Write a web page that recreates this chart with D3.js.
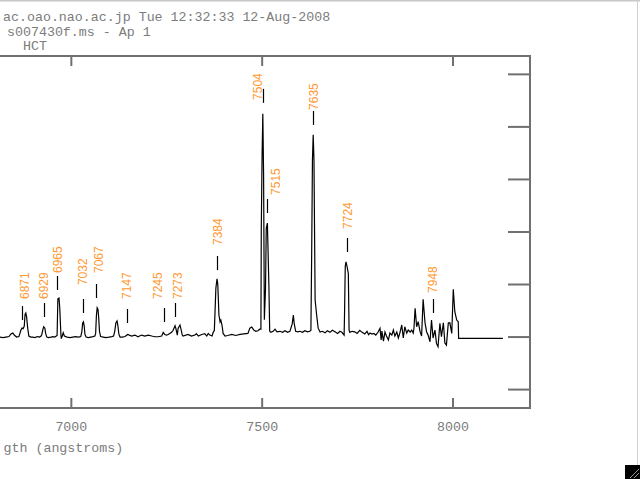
<!DOCTYPE html>
<html>
<head>
<meta charset="utf-8">
<script src="https://cdn.jsdelivr.net/npm/d3@7"></script>
<style>
  body { margin: 0; background: #fff; overflow: hidden; }
  .mono { font-family: "Liberation Mono", "DejaVu Sans Mono", monospace; font-size: 13.3px; fill: #7c7c7c; }
  .lbl { font-family: "Liberation Sans", Arial, sans-serif; font-size: 12px; fill: #ff9933; }
</style>
</head>
<body>
<div id="chart"></div>
<script>
// spectrum (wavelength in angstroms, flux in arbitrary units)
var waves = [6800, 6814, 6822, 6830, 6838, 6843, 6848, 6853, 6858, 6864,
  6869, 6872, 6875, 6878, 6880, 6882, 6884, 6887, 6890, 6895,
  6900, 6906, 6912, 6918, 6922, 6924, 6927, 6929, 6932, 6934,
  6937, 6942, 6948, 6953, 6958, 6962, 6964, 6966, 6969, 6971,
  6974, 6975, 6977, 6980, 6983, 6990, 6998, 7005, 7012, 7020,
  7026, 7029, 7031, 7033, 7035, 7037, 7040, 7046, 7052, 7058,
  7063, 7065, 7067, 7069, 7071, 7073, 7075, 7078, 7085, 7092,
  7100, 7107, 7112, 7115, 7118, 7121, 7123, 7126, 7129, 7135,
  7142, 7149, 7159, 7168, 7176, 7185, 7194, 7203, 7212, 7220,
  7229, 7238, 7242, 7246, 7251, 7255, 7264, 7268, 7273, 7275,
  7279, 7281, 7286, 7288, 7292, 7294, 7307, 7316, 7325, 7329,
  7334, 7343, 7351, 7356, 7360, 7364, 7370, 7373, 7376, 7380,
  7383, 7385, 7388, 7391, 7393, 7396, 7399, 7404, 7411, 7422,
  7432, 7443, 7453, 7464, 7469, 7474, 7480, 7485, 7490, 7495,
  7498, 7499, 7501, 7503, 7505, 7507, 7510, 7512, 7515, 7516,
  7519, 7521, 7524, 7530, 7535, 7540, 7548, 7555, 7561, 7568,
  7574, 7580, 7583, 7585, 7589, 7595, 7600, 7607, 7613, 7620,
  7626, 7629, 7631, 7633, 7635, 7637, 7640, 7644, 7648, 7653,
  7659, 7666, 7672, 7679, 7685, 7692, 7699, 7705, 7710, 7716,
  7717, 7719, 7721, 7724, 7727, 7729, 7731, 7737, 7744, 7750,
  7757, 7763, 7770, 7776, 7780, 7784, 7789, 7794, 7799, 7805,
  7810, 7813, 7815, 7819, 7823, 7827, 7832, 7836, 7841, 7845,
  7849, 7854, 7858, 7862, 7867, 7871, 7875, 7880, 7884, 7889,
  7893, 7897, 7899, 7902, 7906, 7910, 7915, 7919, 7923, 7928,
  7932, 7936, 7941, 7945, 7949, 7954, 7958, 7962, 7967, 7971,
  7976, 7980, 7984, 7989, 7993, 7998, 8002, 8006, 8011, 8015,
  8016, 8132];

var flux = [49, 49.5, 49, 49.5, 50, 52.5, 53.3, 51, 49.5, 50,
  56, 58, 57.5, 60, 71, 72.4, 69, 58, 50.5, 49.5,
  49.5, 49, 50, 49.5, 50.5, 52, 57, 59.3, 58, 53,
  49.5, 49, 49.5, 50, 49.5, 50.5, 51, 86, 86.7, 77,
  51.4, 48, 50, 53.6, 50.5, 49.5, 49, 49.5, 50, 49.5,
  50, 55, 63, 64, 60, 52, 49.5, 49, 49.5, 50,
  50.5, 53, 70, 77.4, 76, 68, 55, 50, 49.5, 49,
  49.5, 50, 50.5, 55, 63, 64.8, 61, 52, 49.5, 49.5,
  50, 52, 50.5, 51.4, 49.8, 51.4, 50.5, 51.4, 50.5, 49.8,
  49.8, 50.5, 54, 52, 51.4, 52, 54, 56, 60.3, 58,
  51.4, 57.8, 61, 58, 51.4, 50.5, 52, 50.5, 51.4, 52.7,
  50.5, 52, 52.7, 50.5, 53, 51.4, 50.5, 54, 56, 96,
  105, 99.7, 70.5, 64, 65.7, 61, 53, 50.5, 51, 52,
  51, 52, 52.5, 53, 58, 59, 56, 55, 55.5, 57,
  57, 153, 221, 262, 204, 66, 95, 153, 158, 142,
  97, 55, 54, 55, 57, 54.5, 55, 54, 55.5, 54,
  55, 62, 70.5, 63, 55, 54.5, 55, 54, 55.5, 54.5,
  55, 56, 129.5, 218, 242, 218, 84.8, 70.5, 58, 54.3,
  55, 53.5, 55.5, 54, 56, 54.5, 53, 55, 54, 51.4,
  69.5, 117, 121, 116, 110, 56, 54, 55, 54.5, 53,
  56, 54, 52.5, 55, 51.8, 53.3, 52.4, 52.9, 51.4, 54.3,
  57.8, 46.7, 55.2, 45.7, 54.3, 50.5, 46.7, 53.3, 51.4, 56.2,
  50.5, 54.3, 48.6, 53.3, 61, 48.6, 59.3, 53.3, 56.2, 54.3,
  56.2, 53.3, 58.1, 76.9, 59.3, 64.1, 54.6, 50.5, 85.4, 62.9,
  54.6, 51.4, 45, 65.7, 48.6, 56.2, 43.5, 40.3, 62.6, 49.8,
  63.1, 43.8, 41.9, 62.9, 63.1, 53, 95, 73.6, 65.7, 64.1,
  48.3, 48.3];

// line identifications: wavelength, flux at foot of marker, flux at start of label text
var lineIds = [6871, 6929, 6965, 7032, 7067, 7147, 7245, 7273, 7384, 7504, 7515, 7635, 7724, 7948];
var markerFlux = [65.7, 68.6, 94.3, 72.4, 86.7, 62.9, 63.8, 68.6, 113.3, 272.4, 167.6, 251.4, 130.5, 72.4];
var textFlux = [85.7, 85.7, 110.5, 99, 110.5, 85.7, 85.7, 85.7, 137.1, 275.2, 184.8, 265.7, 152.4, 91.4];

var xTicks = [7000, 7500, 8000];
var yTicks = [0, 50, 100, 150, 200, 250, 300];

var header = ["ac.oao.nao.ac.jp Tue 12:32:33 12-Aug-2008", "s007430f.ms - Ap 1", "HCT"];
// only the tail of the axis title is inside the window
var xTitle = "gth (angstroms)";

// page set-up
var width = 640, height = 479;
var frame = {left: -120, right: 530, top: 56, bottom: 408};
var grey = "#707070";

var svg = d3.select("#chart").append("svg")
    .attr("width", width)
    .attr("height", height)
    .style("display", "block");

svg.append("rect").attr("width", width).attr("height", height).attr("fill", "#fff");

// scales (left edge of the plot is scrolled off the window)
var x = d3.scaleLinear().domain([6500, 8203]).range([frame.left, frame.right]);
var y = d3.scaleLinear().domain([-18, 317]).range([frame.bottom, frame.top]);

// header lines
var hx = [3, 7, 23], hy = [21, 35.5, 50];
svg.selectAll("text.head")
    .data(header)
  .enter().append("text")
    .attr("class", "mono head")
    .attr("x", function(d, i) { return hx[i]; })
    .attr("y", function(d, i) { return hy[i]; })
    .text(function(d) { return d; });

// ticks: bottom (inward), top (inward), right (inward)
function styleAxis(g) {
  g.select(".domain").remove();
  g.selectAll(".tick line").attr("stroke", grey).attr("stroke-width", 2);
}

svg.append("g")
    .attr("transform", "translate(0," + frame.bottom + ")")
    .call(d3.axisTop(x).tickValues(xTicks).tickSize(10).tickFormat(""))
    .call(styleAxis);

svg.append("g")
    .attr("transform", "translate(0," + frame.top + ")")
    .call(d3.axisBottom(x).tickValues(xTicks).tickSize(10).tickFormat(""))
    .call(styleAxis);

svg.append("g")
    .attr("transform", "translate(" + frame.right + ",0)")
    .call(d3.axisLeft(y).tickValues(yTicks).tickSize(22).tickFormat(""))
    .call(styleAxis);

// tick labels
var xl = svg.append("g")
    .attr("transform", "translate(0," + frame.bottom + ")")
    .call(d3.axisBottom(x).tickValues(xTicks).tickSize(0).tickPadding(13.6).tickFormat(d3.format("d")));
xl.select(".domain").remove();
xl.selectAll("text")
    .attr("class", "mono")
    .attr("font-family", null)
    .attr("font-size", null)
    .attr("fill", null);

// axis title
svg.append("text")
    .attr("class", "mono")
    .attr("x", 3.5)
    .attr("y", 452)
    .text(xTitle);

// frame
svg.append("rect")
    .attr("x", frame.left)
    .attr("y", frame.top)
    .attr("width", frame.right - frame.left)
    .attr("height", frame.bottom - frame.top)
    .attr("fill", "none")
    .attr("stroke", grey)
    .attr("stroke-width", 2);

// spectrum
var pts = d3.zip(waves, flux);
svg.append("path")
    .datum(pts)
    .attr("fill", "none")
    .attr("stroke", "#000")
    .attr("stroke-width", 1.2)
    .attr("stroke-linejoin", "miter")
    .attr("d", d3.line()
      .x(function(d) { return x(d[0]); })
      .y(function(d) { return y(d[1]); }));

// line markers and labels
var nudge = {7245: -7, 7504: -6, 7515: 8, 6871: 3, 7273: 3, 7067: 2};
var ids = svg.append("g").selectAll("g")
    .data(lineIds)
  .enter().append("g");

ids.append("line")
    .attr("x1", function(d) { return Math.round(x(d)) + 0.5; })
    .attr("x2", function(d) { return Math.round(x(d)) + 0.5; })
    .attr("y1", function(d, i) { return y(markerFlux[i]); })
    .attr("y2", function(d, i) { return y(markerFlux[i]) - 14; })
    .attr("stroke", "#000")
    .attr("stroke-width", 1.2);

ids.append("text")
    .attr("class", "lbl")
    .attr("transform", function(d, i) {
      var cx = x(d) + (nudge[d] || 0);
      return "translate(" + cx + "," + y(textFlux[i]) + ") rotate(-90)";
    })
    .attr("dy", "0.36em")
    .text(function(d) { return d; });

// window edges and resize grip
svg.append("line").attr("x1", 0).attr("x2", width).attr("y1", 0.5).attr("y2", 0.5)
    .attr("stroke", "#c8c8c8").attr("stroke-width", 2);
svg.append("line").attr("x1", 637.5).attr("x2", 637.5).attr("y1", 0).attr("y2", 465)
    .attr("stroke", "#d0d0d0").attr("stroke-width", 1);
svg.append("rect").attr("x", 625).attr("y", 465).attr("width", 15).attr("height", 14).attr("fill", "#000");
svg.append("line").attr("x1", 630).attr("y1", 478).attr("x2", 639).attr("y2", 469)
    .attr("stroke", "#999").attr("stroke-width", 1);
svg.append("line").attr("x1", 634).attr("y1", 478).attr("x2", 639).attr("y2", 473)
    .attr("stroke", "#999").attr("stroke-width", 1);
</script>
</body>
</html>
